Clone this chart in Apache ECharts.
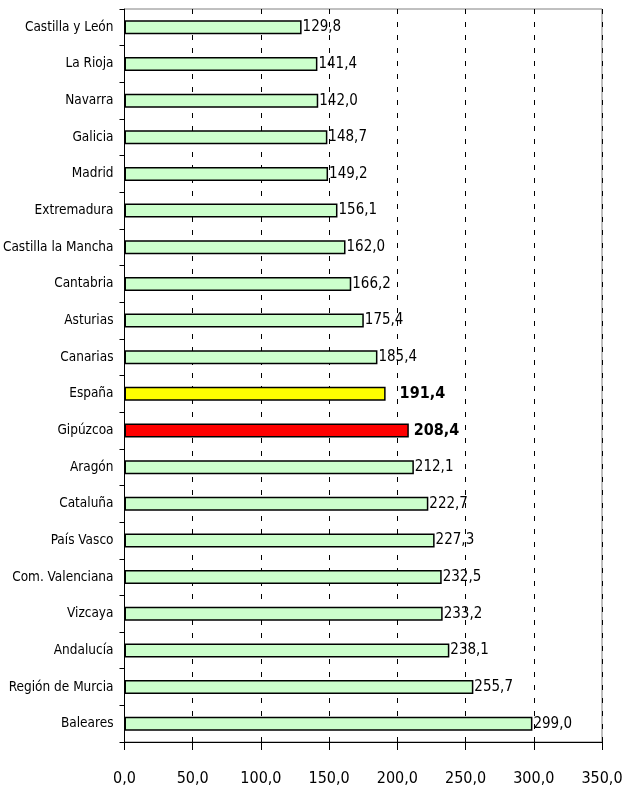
<!DOCTYPE html>
<html>
<head>
<meta charset="utf-8">
<script src="https://cdn.jsdelivr.net/npm/echarts@6/dist/echarts.min.js"></script>
<style>
  html, body { margin: 0; padding: 0; background: #fff; }
  #chart { width: 623px; height: 791px; }
</style>
</head>
<body>
<div id="chart"></div>
<script>
var regiones = ['Castilla y León', 'La Rioja', 'Navarra', 'Galicia', 'Madrid', 'Extremadura',
  'Castilla la Mancha', 'Cantabria', 'Asturias', 'Canarias', 'España', 'Gipúzcoa', 'Aragón',
  'Cataluña', 'País Vasco', 'Com. Valenciana', 'Vizcaya', 'Andalucía', 'Región de Murcia', 'Baleares'];
var valores = [129.8, 141.4, 142.0, 148.7, 149.2, 156.1, 162.0, 166.2, 175.4, 185.4,
  191.4, 208.4, 212.1, 222.7, 227.3, 232.5, 233.2, 238.1, 255.7, 299.0];
// colores y separacion de etiqueta de las barras destacadas
var destacados = { 'España': '#ffff00', 'Gipúzcoa': '#ff0000' };
var separacion = { 'España': 14, 'Gipúzcoa': 5 };

var fuente = "'Liberation Sans Narrow', 'DejaVu Sans Condensed', 'Arial Narrow', sans-serif";

function coma(v) { return v.toFixed(1).replace('.', ','); }

var datos = valores.map(function (v, i) {
  var nombre = regiones[i];
  var item = { value: v };
  if (destacados[nombre]) {
    item.itemStyle = { color: destacados[nombre] };
    item.label = { fontWeight: 'bold', fontSize: 16, distance: separacion[nombre] };
  }
  return item;
});

var chart = echarts.init(document.getElementById('chart'));
chart.setOption({
  animation: false,
  textStyle: { fontFamily: fuente },
  grid: {
    left: 124.5, right: 21, top: 9, bottom: 49,
    outerBoundsMode: 'none', containLabel: false,
    show: true, borderColor: '#808080', borderWidth: 1
  },
  xAxis: {
    type: 'value',
    min: 0, max: 350, interval: 50,
    axisLine: { show: true, lineStyle: { color: '#000', width: 1 } },
    axisTick: { show: true, length: 8, lineStyle: { color: '#000' } },
    axisLabel: {
      margin: 29, color: '#000', fontSize: 16, fontFamily: fuente,
      formatter: function (v) { return coma(v); }
    },
    splitLine: { show: true, lineStyle: { color: '#000', type: [5, 8], width: 1 } }
  },
  yAxis: {
    type: 'category',
    inverse: true,
    data: regiones,
    axisLine: { show: true, lineStyle: { color: '#000', width: 1 } },
    axisTick: { show: true, length: 5, lineStyle: { color: '#000' } },
    axisLabel: { color: '#000', fontSize: 13.5, margin: 11, fontFamily: fuente }
  },
  series: [{
    type: 'bar',
    data: datos,
    barWidth: 14,
    itemStyle: { color: '#ccffcc', borderColor: '#000', borderWidth: 1.5 },
    label: {
      show: true, position: 'right', distance: 1, color: '#000', fontSize: 15,
      fontFamily: fuente,
      formatter: function (p) { return coma(p.value); }
    }
  }]
});
</script>
</body>
</html>
